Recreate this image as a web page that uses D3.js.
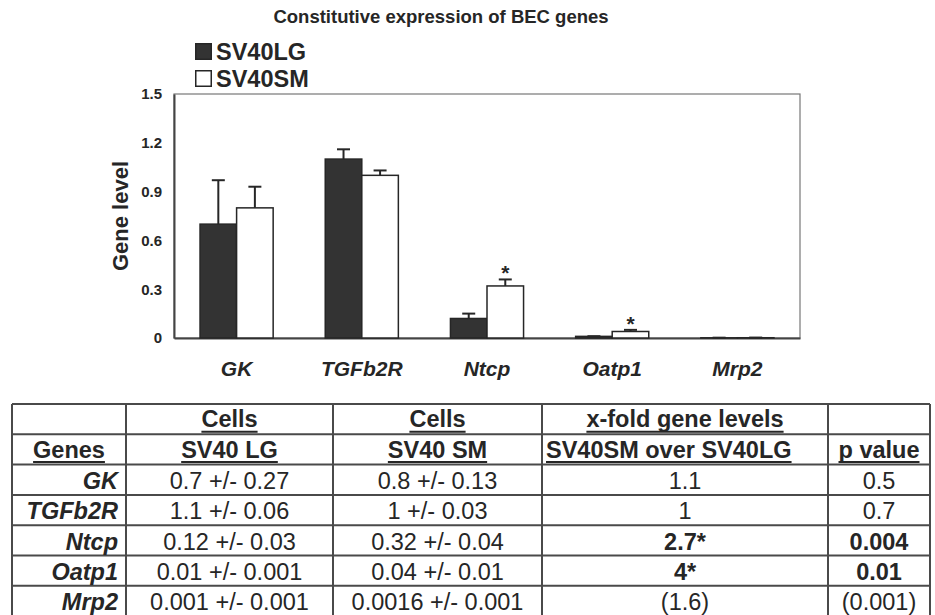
<!DOCTYPE html>
<html>
<head>
<meta charset="utf-8">
<script src="https://cdn.jsdelivr.net/npm/d3@7"></script>
<style>
  html, body { margin: 0; padding: 0; background: #fff; }
  svg { display: block; font-family: "Liberation Sans", Arial, Helvetica, sans-serif; }
</style>
</head>
<body>
<svg id="chart" width="935" height="615"></svg>
<script>
// ---------- data ----------
const genes = ["GK", "TGFb2R", "Ntcp", "Oatp1", "Mrp2"];
const seriesNames = ["SV40LG", "SV40SM"];
const lgMean = [0.7, 1.1, 0.12, 0.01, 0.001];
const lgErr  = [0.27, 0.06, 0.03, 0.001, 0.001];
const smMean = [0.8, 1, 0.32, 0.04, 0.0016];
const smErr  = [0.13, 0.03, 0.04, 0.01, 0.001];
const significant = [false, false, true, true, false];
const foldChange = ["1.1", "1", "2.7*", "4*", "(1.6)"];
const pValues = ["0.5", "0.7", "0.004", "0.01", "(0.001)"];
const yTicks = [0, 0.3, 0.6, 0.9, 1.2, 1.5];
const chartTitle = "Constitutive expression of BEC genes";
const yTitle = "Gene level";
const tableHead1 = ["", "Cells", "Cells", "x-fold gene levels", ""];
const tableHead2 = ["Genes", "SV40 LG", "SV40 SM", "SV40SM over SV40LG", "p value"];

// ---------- setup ----------
const svg = d3.select("#chart");
const ink = "#262626";
const fill = "#333";
const FONT = '"Liberation Sans", Arial, Helvetica, sans-serif';
const M = { left: 174, right: 800, top: 94, bottom: 338 };

const x0 = d3.scaleBand().domain(genes).range([M.left, M.right])
  .paddingInner(0.416).paddingOuter(0.208);
const x1 = d3.scaleBand().domain(seriesNames).range([0, x0.bandwidth()]);
const y = d3.scaleLinear().domain([0, 1.5]).range([M.bottom, M.top]);

// title
svg.append("text").attr("x", 441).attr("y", 23).attr("text-anchor", "middle")
  .style("font-size", "18.5px").style("font-weight", "bold").attr("fill", ink).text(chartTitle);

// legend
const legendFill = ["#333", "#fff"];
seriesNames.forEach((s, i) => {
  const g = svg.append("g").attr("transform", `translate(195, ${43 + i * 27})`);
  g.append("rect").attr("x", 0.75).attr("y", 0.75).attr("width", 15.5).attr("height", 15.5)
    .attr("fill", legendFill[i]).attr("stroke", ink).attr("stroke-width", 1.5);
  g.append("text").attr("x", 21).attr("y", 17).style("font-size", "23.5px").style("font-weight", "bold")
    .attr("fill", ink).text(s);
});

// frame
svg.append("rect").attr("x", M.left).attr("y", M.top)
  .attr("width", M.right - M.left).attr("height", M.bottom - M.top)
  .attr("fill", "none").attr("stroke", "#777").attr("stroke-width", 1.2);

// y axis
const yAxis = svg.append("g").attr("transform", `translate(${M.left},0)`)
  .call(d3.axisLeft(y).tickValues(yTicks).tickFormat(d => String(d)).tickSize(0).tickPadding(12));
yAxis.attr("font-family", null).attr("font-size", null);
yAxis.select(".domain").attr("stroke", "#444").attr("stroke-width", 2);
yAxis.selectAll("text").style("font-size", "15px").style("font-weight", "bold")
  .style("font-family", FONT).attr("fill", ink);

svg.append("text").attr("transform", `translate(128, 216) rotate(-90)`)
  .attr("text-anchor", "middle").style("font-size", "22px").style("font-weight", "bold")
  .attr("fill", ink).text(yTitle);

// x axis baseline & labels
const xAxis = svg.append("g").attr("transform", `translate(0,${M.bottom})`)
  .call(d3.axisBottom(x0).tickSize(0).tickPadding(0).tickSizeOuter(0));
xAxis.select(".domain").attr("stroke", "#444").attr("stroke-width", 2);
xAxis.selectAll("text").remove();
genes.forEach(gn => {
  svg.append("text").attr("x", x0(gn) + x0.bandwidth() / 2).attr("y", 376)
    .attr("text-anchor", "middle").style("font-size", "21px").style("font-weight", "bold")
    .style("font-style", "italic").attr("fill", ink).text(gn);
});

// bars
const series = [
  { name: seriesNames[0], mean: lgMean, err: lgErr, fill: fill },
  { name: seriesNames[1], mean: smMean, err: smErr, fill: "#fff" }
];
series.forEach(s => {
  genes.forEach((gn, i) => {
    const bx = x0(gn) + x1(s.name);
    const bw = x1.bandwidth();
    const top = y(s.mean[i]);
    svg.append("rect").attr("x", bx).attr("y", top)
      .attr("width", bw).attr("height", Math.max(0, y(0) - top))
      .attr("fill", s.fill).attr("stroke", ink).attr("stroke-width", 1.5);
    // error bar (upper only)
    const cx = bx + bw / 2;
    const et = y(s.mean[i] + s.err[i]);
    svg.append("line").attr("x1", cx).attr("x2", cx).attr("y1", top).attr("y2", et)
      .attr("stroke", ink).attr("stroke-width", 2);
    svg.append("line").attr("x1", cx - 6.5).attr("x2", cx + 6.5).attr("y1", et).attr("y2", et)
      .attr("stroke", ink).attr("stroke-width", 2);
    if (s.name === seriesNames[1] && significant[i]) {
      svg.append("text").attr("x", cx).attr("y", et + 1).attr("text-anchor", "middle")
        .style("font-size", "21px").style("font-weight", "bold").attr("fill", ink).text("*");
    }
  });
});

// ---------- table ----------
const colEdges = [12, 126, 333, 542, 828, 930];
const rowTop = 404, rowH = 30.3;
const nRows = 2 + genes.length;
const tableBottom = rowTop + rowH * nRows;
const tbl = svg.append("g");
const lineColor = "#4a4a4a";
for (let r = 0; r <= nRows; r++) {
  const yy = rowTop + r * rowH;
  tbl.append("line").attr("x1", colEdges[0]).attr("x2", colEdges[colEdges.length - 1])
    .attr("y1", yy).attr("y2", yy).attr("stroke", lineColor).attr("stroke-width", 2);
}
colEdges.forEach(cx => {
  tbl.append("line").attr("x1", cx).attr("x2", cx).attr("y1", rowTop).attr("y2", tableBottom)
    .attr("stroke", lineColor).attr("stroke-width", 2);
});

function cellText(row, col, txt, opts = {}) {
  const left = colEdges[col], right = colEdges[col + 1];
  let xx = (left + right) / 2, anchor = "middle";
  if (opts.align === "end") { xx = right - 8; anchor = "end"; }
  if (opts.align === "start") { xx = left + 4; anchor = "start"; }
  const yy = rowTop + (row + 1) * rowH - (opts.base || 6);
  const t = tbl.append("text").attr("x", xx).attr("y", yy).attr("text-anchor", anchor)
    .style("font-size", "23.5px").attr("fill", ink)
    .style("font-weight", opts.bold ? "bold" : "normal")
    .style("font-style", opts.italic ? "italic" : "normal").text(txt);
  if (opts.underline && txt) {
    const bb = t.node().getBBox();
    tbl.append("line").attr("x1", bb.x).attr("x2", bb.x + bb.width)
      .attr("y1", yy + 4.5).attr("y2", yy + 4.5).attr("stroke", ink).attr("stroke-width", 2);
  }
  return t;
}

tableHead1.forEach((h, c) => cellText(0, c, h, { bold: true, underline: true, base: 7 }));
tableHead2.forEach((h, c) => cellText(1, c, h, {
  bold: true, underline: true, base: 7, align: c === 3 ? "start" : undefined
}));
genes.forEach((gn, i) => {
  const r = i + 2;
  cellText(r, 0, gn, { bold: true, italic: true, align: "end" });
  cellText(r, 1, `${lgMean[i]} +/- ${lgErr[i]}`);
  cellText(r, 2, `${smMean[i]} +/- ${smErr[i]}`);
  cellText(r, 3, foldChange[i], { bold: significant[i] });
  cellText(r, 4, pValues[i], { bold: significant[i] });
});
</script>
</body>
</html>
